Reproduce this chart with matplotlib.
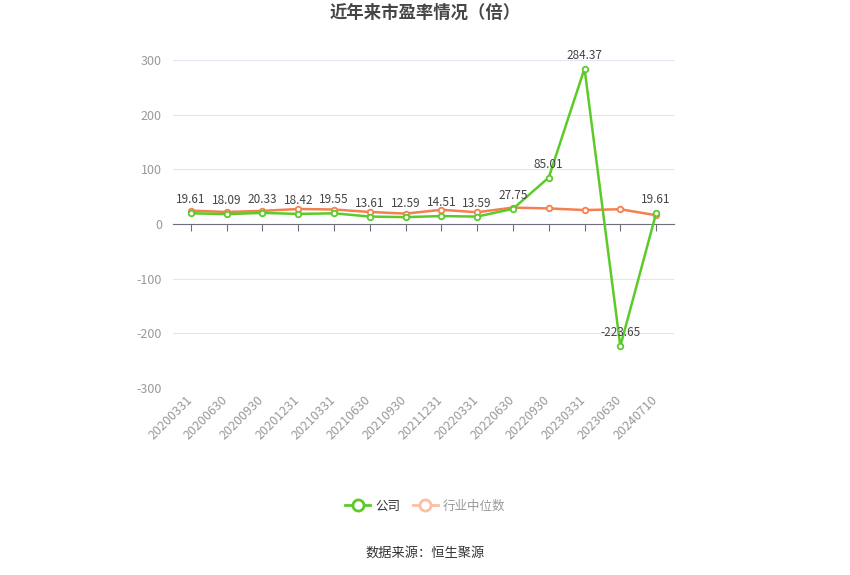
import matplotlib
matplotlib.use("Agg")
import matplotlib.pyplot as plt
import matplotlib.transforms as mtransforms
from matplotlib.lines import Line2D

plt.rcParams['font.family'] = ['Noto Sans CJK SC', 'DejaVu Sans']

categories = ["20200331", "20200630", "20200930", "20201231", "20210331", "20210630",
              "20210930", "20211231", "20220331", "20220630", "20220930", "20230331",
              "20230630", "20240710"]
company_pe = [19.61, 18.09, 20.33, 18.42, 19.55, 13.61, 12.59, 14.51, 13.59, 27.75,
              85.01, 284.37, -223.65, 19.61]
industry_median = [24.5, 22.0, 24.0, 27.5, 26.5, 22.0, 19.0, 26.0, 21.5, 30.0,
                   28.5, 25.5, 27.0, 16.0]
y_ticks = [-300, -200, -100, 0, 100, 200, 300]

green = "#5ccb2a"
orange = "#f5804f"

fig = plt.figure(figsize=(8.5, 5.75), dpi=100)
ax = fig.add_axes([173/850, 1-388/575, 501/850, 328/575])

x = list(range(len(categories)))
ax.plot(x, industry_median, color=orange, lw=1.8, marker='o', ms=4,
        mfc='white', mec=orange, mew=1.3, zorder=3)
ax.plot(x, company_pe, color=green, lw=1.8, marker='o', ms=4,
        mfc='white', mec=green, mew=1.3, zorder=4)

for xi, v in zip(x, company_pe):
    ax.annotate(f"{v:.2f}", (xi, v), xytext=(0, 5), textcoords='offset points',
                ha='center', va='bottom', fontsize=8.5, color='#444444', zorder=5)

ax.set_xlim(-0.5, len(categories) - 0.5)
ax.set_ylim(-300, 300)
ax.set_yticks(y_ticks)
ax.set_yticklabels([str(t) for t in y_ticks])
ax.grid(axis='y', color='#e0e6f1', lw=0.8)
ax.set_axisbelow(True)
for s in ['left', 'right', 'top']:
    ax.spines[s].set_visible(False)
ax.spines['bottom'].set_position(('data', 0))
ax.spines['bottom'].set_color('#6e7079')
ax.set_xticks(x)
ax.set_xticklabels([])
ax.tick_params(axis='x', length=5, color='#6e7079', direction='out')
ax.tick_params(axis='y', length=0, labelsize=9, labelcolor='#999999', pad=8)

trans = mtransforms.blended_transform_factory(ax.transData, ax.transAxes)
for xi, lab in zip(x, categories):
    ax.text(xi - 0.15, -0.015, lab, transform=trans, rotation=45, ha='right', va='top',
            fontsize=9, color='#999999', rotation_mode='anchor')

fig.text(0.5, 1 - 13/575, "近年来市盈率情况（倍）", ha='center', va='center',
         fontsize=12.5, fontweight='bold', color='#464646')

handles = [Line2D([0], [0], color=green, lw=2, marker='o', ms=8, mfc='white', mec=green, mew=2),
           Line2D([0], [0], color='#fbbfa4', lw=2, marker='o', ms=8, mfc='white', mec='#fbbfa4', mew=2)]
leg = fig.legend(handles, ["公司", "行业中位数"], loc='center', bbox_to_anchor=(0.5, 1 - 506/575),
                 ncol=2, frameon=False, fontsize=9, handlelength=2.0, columnspacing=1.0,
                 handletextpad=0.4)
leg.get_texts()[0].set_color('#333333')
leg.get_texts()[1].set_color('#999999')

fig.text(0.5, 1 - 553/575, "数据来源：恒生聚源", ha='center', va='center',
         fontsize=9.5, color='#333333')

fig.savefig("out.png", dpi=100)
